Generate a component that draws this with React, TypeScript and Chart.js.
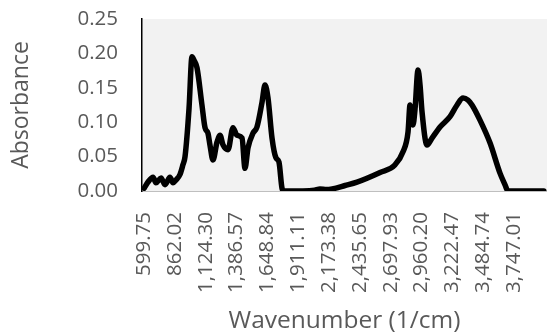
import React, { useEffect, useRef } from "react";
import { Chart, registerables } from "chart.js";

Chart.register(...registerables);

const wavenumbers: number[] = [
  600, 633, 676, 701, 744, 778, 820, 846, 871, 905, 930, 948, 982, 1007, 1024,
  1050, 1092, 1118, 1143, 1160, 1186, 1220, 1246, 1271, 1314, 1356, 1390, 1433,
  1458, 1484, 1526, 1560, 1603, 1628, 1654, 1688, 1722, 1747, 1773, 1790, 1850,
  1950, 2050, 2096, 2150, 2200, 2309, 2411, 2607, 2734, 2802, 2845, 2862, 2887,
  2904, 2930, 2947, 2964, 3006, 3049, 3117, 3202, 3262, 3313, 3355, 3389, 3457,
  3542, 3627, 3670, 3695, 3800, 3900, 4000,
];

const absorbance: number[] = [
  0.004, 0.013, 0.02, 0.012, 0.019, 0.009, 0.02, 0.012, 0.016, 0.024, 0.038,
  0.05, 0.12, 0.195, 0.19, 0.179, 0.125, 0.092, 0.084, 0.067, 0.045, 0.071,
  0.081, 0.067, 0.06, 0.092, 0.081, 0.077, 0.033, 0.063, 0.084, 0.093, 0.129,
  0.154, 0.135, 0.077, 0.048, 0.042, 0.004, 0.0, 0.0, 0.0, 0.001, 0.003, 0.002,
  0.003, 0.008, 0.013, 0.027, 0.038, 0.057, 0.086, 0.125, 0.096, 0.118, 0.176,
  0.154, 0.115, 0.067, 0.077, 0.093, 0.108, 0.125, 0.135, 0.132, 0.125, 0.103,
  0.07, 0.026, 0.009, 0.0, 0.0, 0.0, 0.0,
];

const xTickLabels: number[] = [
  599.75, 862.02, 1124.3, 1386.57, 1648.84, 1911.11, 2173.38, 2435.65, 2697.93,
  2960.2, 3222.47, 3484.74, 3747.01,
];

const yTicks: number[] = [0, 0.05, 0.1, 0.15, 0.2, 0.25];

const FONT = "'Open Sans', 'Noto Sans', sans-serif";
const GRAY = "#595959";

const plotBg = {
  id: "plotBg",
  beforeDraw(chart: any) {
    const { ctx, chartArea } = chart;
    if (!chartArea) return;
    ctx.save();
    ctx.fillStyle = "#f2f2f2";
    ctx.fillRect(
      chartArea.left,
      chartArea.top,
      chartArea.right - chartArea.left,
      chartArea.bottom - chartArea.top
    );
    ctx.restore();
  },
};

export default function App() {
  const ref = useRef<HTMLCanvasElement | null>(null);

  useEffect(() => {
    document.body.style.margin = "0";
    if (!ref.current) return;
    const chart = new Chart(ref.current, {
      type: "line",
      data: {
        datasets: [
          {
            data: wavenumbers.map((x, i) => ({ x, y: absorbance[i] })),
            borderColor: "#000000",
            borderWidth: 5.5,
            pointRadius: 0,
            fill: false,
            cubicInterpolationMode: "monotone",
            borderJoinStyle: "round",
            borderCapStyle: "round",
          },
        ],
      },
      options: {
        animation: false,
        responsive: false,
        maintainAspectRatio: false,
        layout: { padding: { top: 19, right: 0, left: 0, bottom: 0 } },
        plugins: {
          legend: { display: false },
          tooltip: { enabled: false },
        },
        scales: {
          x: {
            type: "linear",
            min: 582,
            max: 4027,
            afterBuildTicks: (scale: any) => {
              scale.ticks = xTickLabels.map((v) => ({ value: v }));
            },
            afterFit: (scale: any) => {
              scale.height = 145;
              scale.paddingLeft = 0;
              scale.paddingRight = 0;
            },
            grid: { display: false, drawTicks: false },
            border: { display: true, color: "#bfbfbf", width: 1 },
            ticks: {
              autoSkip: false,
              minRotation: 90,
              maxRotation: 90,
              padding: 21,
              color: GRAY,
              font: { family: FONT, size: 20.5 },
              callback: (v: any) =>
                Number(v).toLocaleString("en-US", {
                  minimumFractionDigits: 2,
                  maximumFractionDigits: 2,
                }),
            },
            title: {
              display: true,
              text: "Wavenumber (1/cm)",
              color: GRAY,
              font: { family: FONT, size: 24.5 },
              padding: { top: 0, bottom: 0 },
            },
          },
          y: {
            min: 0,
            max: 0.25,
            afterBuildTicks: (scale: any) => {
              scale.ticks = yTicks.map((v) => ({ value: v }));
            },
            afterFit: (scale: any) => {
              scale.width = 142;
              scale.paddingTop = 0;
              scale.paddingBottom = 0;
            },
            grid: { display: false, drawTicks: false },
            border: { display: true, color: "#000000", width: 1.5 },
            ticks: {
              padding: 24,
              color: GRAY,
              font: { family: FONT, size: 20.5 },
              callback: (v: any) => Number(v).toFixed(2),
            },
            title: {
              display: true,
              text: "Absorbance",
              color: GRAY,
              font: { family: FONT, size: 23 },
              padding: { top: 8, bottom: 0 },
            },
          },
        },
      },
      plugins: [plotBg],
    });
    return () => chart.destroy();
  }, []);

  return (
    <div style={{ width: 547, height: 336 }}>
      <canvas ref={ref} width={547} height={336} style={{ display: "block" }} />
    </div>
  );
}
